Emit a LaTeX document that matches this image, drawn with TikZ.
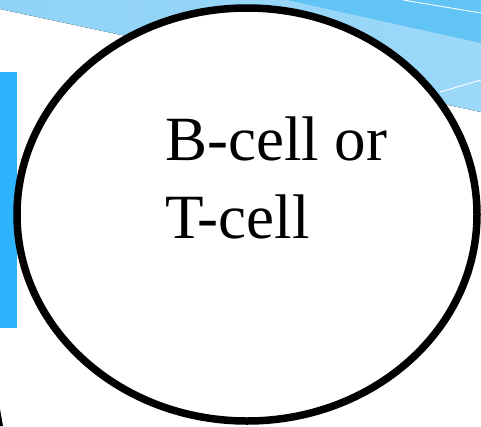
\documentclass[tikz,border=0pt]{standalone}
\usepackage{fontspec}
\setmainfont{Liberation Serif}
\usepackage{xcolor}
\usepackage{tikz}
\usetikzlibrary{positioning}
\definecolor{sky}{HTML}{8FD3F7}
\definecolor{skylo}{HTML}{9CD8F8}
\definecolor{skydk}{HTML}{62C3F5}
\definecolor{bar}{HTML}{2EB4FF}

\begin{document}
\begin{tikzpicture}[x=1pt,y=-1pt]
  \useasboundingbox (0,0) rectangle (481,426);
  % slide background
  \fill[left color=sky, right color=skylo] (0,0) -- (481,0) -- (481,112) -- (0,9) -- cycle;
  \fill[skydk] (287,0) -- (481,0) -- (481,43) -- cycle;
  \draw[white, line width=0.9pt] (403,0) -- (481,13);
  \draw[white, line width=0.9pt] (440,92) -- (481,80);
  \fill[bar] (0,72) rectangle (17,328);
  \fill[black] (0,409) -- (3,426) -- (0,426) -- cycle;
  % the cell
  \coordinate (cell) at (247,214.5);
  \draw[black, fill=white, line width=7.5pt] (cell) ellipse [x radius=230, y radius=206.5];
  \node[anchor=base west, inner sep=0pt, align=left,
    font=\fontsize{63}{78}\selectfont] (celltext) at (165,238) {B-cell or\\T-cell};
\end{tikzpicture}
\end{document}
